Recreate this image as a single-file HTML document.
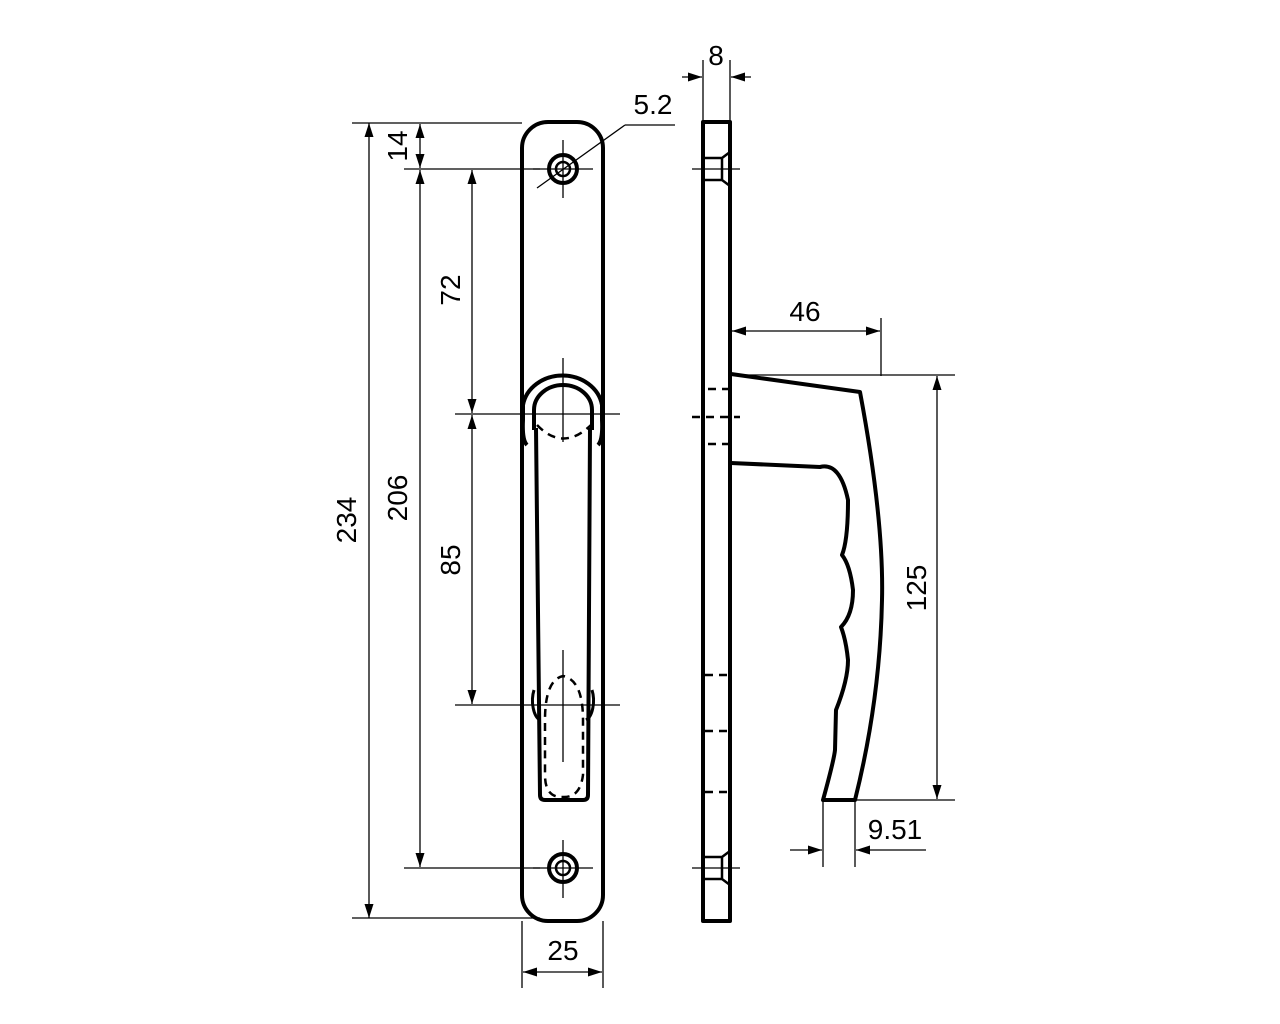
<!DOCTYPE html>
<html><head><meta charset="utf-8"><style>html,body{margin:0;padding:0;background:#fff}svg{display:block}</style></head>
<body>
<svg width="1280" height="1024" viewBox="0 0 1280 1024" xmlns="http://www.w3.org/2000/svg">
<defs>
<marker id="a" viewBox="0 0 14 9" refX="14" refY="4.5" markerWidth="14" markerHeight="9" orient="auto-start-reverse" markerUnits="userSpaceOnUse"><path d="M0,0L14,4.5L0,9z" fill="#000"/></marker>
</defs>
<g font-family="'Liberation Sans','DejaVu Sans Condensed',sans-serif" font-size="28" fill="#000">
<g stroke="#000" stroke-width="1.3" fill="none">
<line x1="352" y1="123" x2="522" y2="123"/>
<line x1="404" y1="169" x2="540" y2="169"/>
<line x1="404" y1="868" x2="540" y2="868"/>
<line x1="352" y1="918" x2="540" y2="918"/>
<line x1="369" y1="123" x2="369" y2="918" marker-start="url(#a)" marker-end="url(#a)"/>
<line x1="420" y1="170" x2="420" y2="867" marker-start="url(#a)" marker-end="url(#a)"/>
<line x1="420" y1="124" x2="420" y2="168" marker-start="url(#a)" marker-end="url(#a)"/>
<line x1="472" y1="170" x2="472" y2="413" marker-start="url(#a)" marker-end="url(#a)"/>
<line x1="472" y1="415" x2="472" y2="704" marker-start="url(#a)" marker-end="url(#a)"/>
<line x1="455" y1="414" x2="620" y2="414"/>
<line x1="455" y1="705" x2="620" y2="705"/>
<line x1="563" y1="358" x2="563" y2="442"/>
<line x1="563" y1="650" x2="563" y2="762"/>
<line x1="533" y1="169" x2="593" y2="169"/><line x1="563" y1="140" x2="563" y2="198"/>
<line x1="533" y1="868" x2="593" y2="868"/><line x1="563" y1="840" x2="563" y2="898"/>
<line x1="537" y1="188" x2="625" y2="125"/><line x1="625" y1="125" x2="675" y2="125"/>
<line x1="522" y1="921" x2="522" y2="988"/><line x1="603" y1="921" x2="603" y2="988"/>
<line x1="523" y1="972" x2="602" y2="972" marker-start="url(#a)" marker-end="url(#a)"/>
<line x1="703" y1="60" x2="703" y2="122"/><line x1="730" y1="60" x2="730" y2="122"/>
<line x1="682" y1="77" x2="702" y2="77" marker-end="url(#a)"/>
<line x1="751" y1="77" x2="731" y2="77" marker-end="url(#a)"/>
<line x1="692" y1="169" x2="740" y2="169"/><line x1="692" y1="868" x2="740" y2="868"/>
<line x1="881" y1="318" x2="881" y2="376"/>
<line x1="732" y1="331" x2="880" y2="331" marker-start="url(#a)" marker-end="url(#a)"/>
<line x1="731" y1="375" x2="955" y2="375"/>
<line x1="855" y1="800" x2="955" y2="800"/>
<line x1="937" y1="376" x2="937" y2="799" marker-start="url(#a)" marker-end="url(#a)"/>
<line x1="823" y1="800" x2="823" y2="867"/><line x1="855" y1="800" x2="855" y2="867"/>
<line x1="790" y1="850" x2="822" y2="850" marker-end="url(#a)"/>
<line x1="926" y1="850" x2="856" y2="850" marker-end="url(#a)"/>
</g>
<g stroke="#000" stroke-width="4" fill="none" stroke-linejoin="round">
<rect x="522" y="122" width="81" height="799" rx="26"/>
<circle cx="563" cy="169" r="14"/><circle cx="563" cy="169" r="7" stroke-width="2.5"/>
<circle cx="563" cy="868" r="14"/><circle cx="563" cy="868" r="7" stroke-width="2.5"/>
<path d="M527,445 Q522,440 523,420 L523,405 A40,35 0 0 1 602,405 L602,420 Q603,440 598,445"/>
<path d="M534,430 L534,410 A29,25 0 0 1 592,410 L592,430"/>
<path d="M536,428 L540,795 Q540,800 545,800 L583,800 Q588,800 588,795 L590,428"/>
<path d="M534,690 A10,20 0 0 0 540,720" stroke-width="3"/>
<path d="M592,690 A10,20 0 0 1 586,720" stroke-width="3"/>
<rect x="703" y="122" width="27" height="799"/>
<path d="M731,374 L860,392 Q884,520 882,600 Q880,700 855,800 L823,800 Q834,760 835,750 L836,710 Q848,680 848,660 Q846,640 841,627 Q853,615 853,590 Q850,565 842,555 Q848,540 848,500 Q840,462 820,467 L731,463"/>
</g>
<g stroke="#000" stroke-width="2.5" fill="none">
<path d="M704,158 L722,158 L730,152 M704,180 L722,180 L730,186 M722,158 L722,180"/>
<path d="M704,857 L722,857 L730,851 M704,879 L722,879 L730,885 M722,857 L722,879"/>
</g>
<g stroke="#000" stroke-width="2.5" stroke-dasharray="8,6" fill="none">
<path d="M537,425 Q563,452 591,425"/>
<path d="M545,745 L545,720 Q545,680 563,676 Q583,680 583,720 L583,775 Q580,798 563,797 Q545,798 545,775 Z"/>
<line x1="708" y1="389" x2="731" y2="389"/>
<line x1="692" y1="417" x2="740" y2="417"/>
<line x1="708" y1="444" x2="731" y2="444"/>
<line x1="705" y1="675" x2="731" y2="675"/>
<line x1="705" y1="731" x2="731" y2="731"/>
<line x1="705" y1="792" x2="731" y2="792"/>
</g>
<text x="653" y="114" text-anchor="middle">5.2</text>
<text x="716" y="65" text-anchor="middle">8</text>
<text x="805" y="321" text-anchor="middle">46</text>
<text x="563" y="960" text-anchor="middle">25</text>
<text x="895" y="839" text-anchor="middle">9.51</text>
<text transform="translate(356,520) rotate(-90)" text-anchor="middle">234</text>
<text transform="translate(407,498) rotate(-90)" text-anchor="middle">206</text>
<text transform="translate(407,146) rotate(-90)" text-anchor="middle">14</text>
<text transform="translate(460,290) rotate(-90)" text-anchor="middle">72</text>
<text transform="translate(460,560) rotate(-90)" text-anchor="middle">85</text>
<text transform="translate(926,588) rotate(-90)" text-anchor="middle">125</text>
</g>
</svg>
</body></html>
